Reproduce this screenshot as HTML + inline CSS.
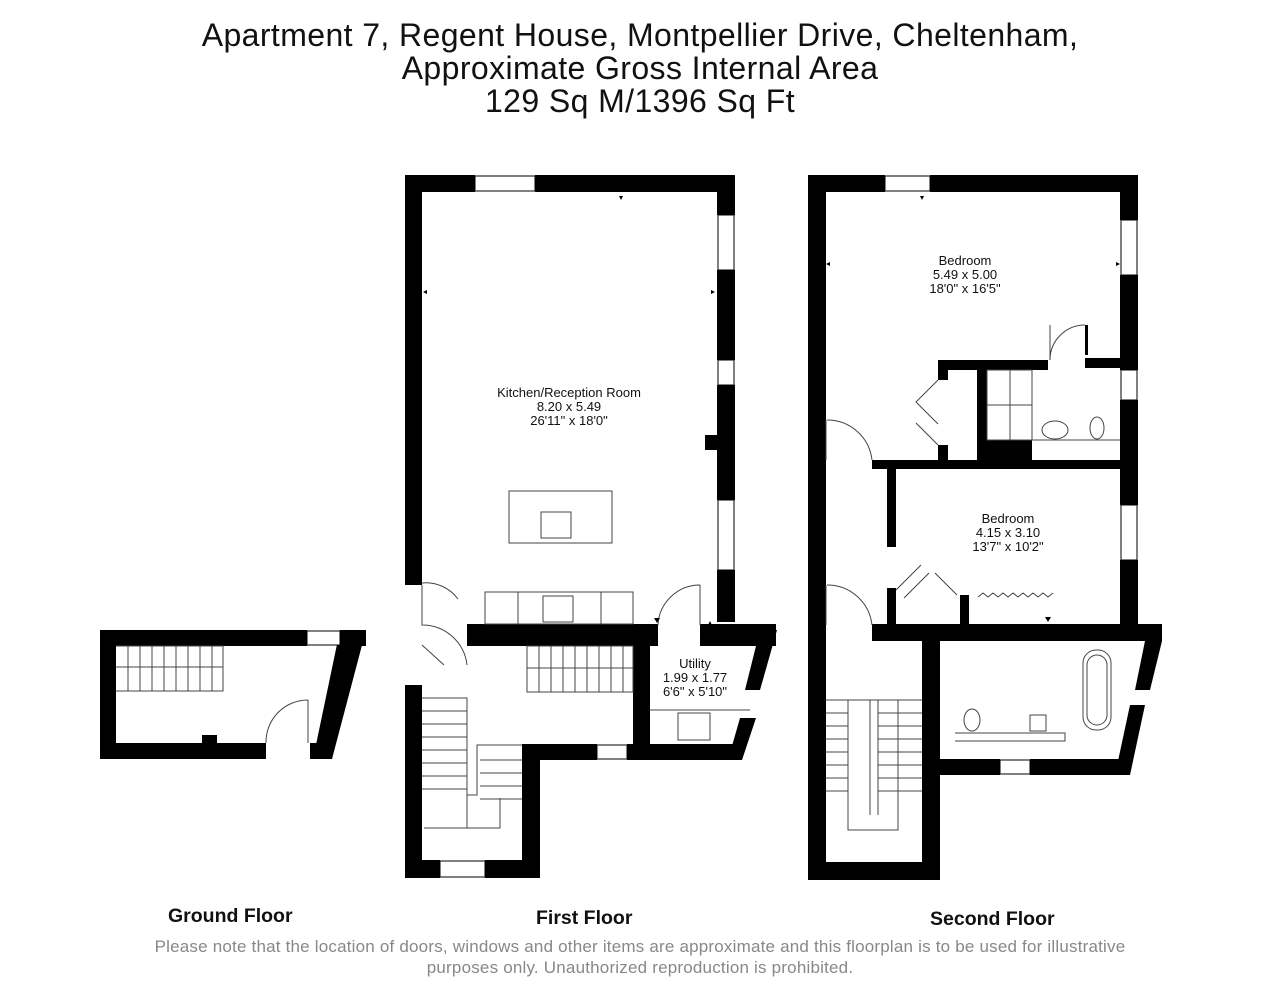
<!DOCTYPE html>
<html><head><meta charset="utf-8"><style>
html,body{margin:0;padding:0;background:#fff;}
body{width:1280px;height:988px;position:relative;overflow:hidden;font-family:"Liberation Sans",sans-serif;}
.t{position:absolute;left:0;width:1280px;text-align:center;color:#111;font-size:32px;letter-spacing:0.4px;line-height:36px;}
.fl{position:absolute;font-weight:bold;font-size:19.5px;color:#111;}
.d{position:absolute;left:0;width:1280px;text-align:center;color:#888;font-size:17px;line-height:21px;letter-spacing:0.2px;}
</style></head><body>
<div class="t" style="top:17px">Apartment 7, Regent House, Montpellier Drive, Cheltenham,</div>
<div class="t" style="top:50px">Approximate Gross Internal Area</div>
<div class="t" style="top:83px">129 Sq M/1396 Sq Ft</div>

<svg width="1280" height="988" style="position:absolute;left:0;top:0" xmlns="http://www.w3.org/2000/svg">
<g fill="#000">
<rect x="100" y="630" width="207" height="16"/>
<rect x="340" y="630" width="26" height="16"/>
<rect x="100" y="630" width="16" height="129"/>
<rect x="100" y="743" width="166" height="16"/>
<rect x="310" y="743" width="22" height="16"/>
<polygon points="340,630 366,630 332,759 313,759"/>
<rect x="202" y="735" width="15" height="8"/>
</g>
<rect x="307" y="631" width="33" height="14" fill="#fff" stroke="#000" stroke-width="1"/>
<g fill="none" stroke="#444" stroke-width="1">
<path d="M116,646 h107 v45 h-107"/>
<path d="M116,667 h107"/>
<path d="M128,646 v45 M140,646 v45 M152,646 v45 M164,646 v45 M176,646 v45 M188,646 v45 M200,646 v45 M212,646 v45"/>
<path d="M308,700 v43 M266,743 a42,42 0 0 1 42,-43"/>
</g>

<g fill="#000">
<rect x="405" y="175" width="70" height="17"/>
<rect x="535" y="175" width="200" height="17"/>
<rect x="405" y="175" width="17" height="410"/>
<rect x="717" y="175" width="18" height="40"/>
<rect x="717" y="270" width="18" height="90"/>
<rect x="717" y="385" width="18" height="115"/>
<rect x="717" y="570" width="18" height="52"/>
<rect x="705" y="435" width="14" height="15"/>
<rect x="467" y="624" width="191" height="22"/>
<rect x="700" y="624" width="76" height="22"/>
<rect x="405" y="685" width="17" height="193"/>
<rect x="405" y="860" width="35" height="18"/>
<rect x="485" y="860" width="55" height="18"/>
<rect x="522" y="744" width="18" height="134"/>
<rect x="522" y="744" width="75" height="16"/>
<rect x="627" y="744" width="115" height="16"/>
<rect x="633" y="646" width="17" height="100"/>
<polygon points="760,630 777,630 760,690 745,690"/>
<polygon points="740,718 756,718 742,760 728,760"/>
</g>
<rect x="475" y="176" width="60" height="15" fill="#fff" stroke="#000"/>
<rect x="718" y="215" width="16" height="55" fill="#fff" stroke="#000"/>
<rect x="718" y="360" width="16" height="25" fill="#fff" stroke="#000"/>
<rect x="718" y="500" width="16" height="70" fill="#fff" stroke="#000"/>
<rect x="440" y="861" width="45" height="16" fill="#fff" stroke="#000"/>
<rect x="597" y="745" width="30" height="14" fill="#fff" stroke="#000"/>
<g fill="none" stroke="#444" stroke-width="1">
<rect x="509" y="491" width="103" height="52"/>
<rect x="541" y="512" width="30" height="26"/>
<rect x="485" y="592" width="148" height="32"/>
<path d="M518,592 v32 M601,592 v32"/>
<rect x="543" y="596" width="30" height="26"/>
<path d="M422,585 v40 a45,45 0 0 1 45,40" />
<path d="M422,645 l22,20 M458,599 a40,40 0 0 0 -36,-16"/>
<path d="M700,585 v40 M658,625 a42,42 0 0 1 42,-40"/>
<path d="M527,646 h106 v46 h-106 z M527,668 h106"/>
<path d="M539,646 v46 M551,646 v46 M563,646 v46 M575,646 v46 M587,646 v46 M599,646 v46 M611,646 v46 M623,646 v46"/>
<path d="M422,698 h45 v130 h-43"/>
<path d="M422,711 h45 M422,724 h45 M422,737 h45 M422,750 h45 M422,763 h45 M422,776 h45 M422,789 h45"/>
<path d="M467,698 v97 h10 v-50 h45"/>
<path d="M480,760 h42 M480,773 h42 M480,786 h42 M480,799 h42 M443,828 h57 v-30"/>
<path d="M650,710 h100"/>
<rect x="678" y="713" width="32" height="27"/>
</g>

<g fill="#000">
<rect x="808" y="175" width="77" height="17"/>
<rect x="930" y="175" width="208" height="17"/>
<rect x="808" y="175" width="18" height="705"/>
<rect x="1120" y="175" width="18" height="45"/>
<rect x="1120" y="275" width="18" height="95"/>
<rect x="1120" y="400" width="18" height="105"/>
<rect x="1120" y="560" width="18" height="70"/>
<rect x="872" y="460" width="248" height="9"/>
<rect x="938" y="360" width="110" height="10"/>
<rect x="938" y="360" width="10" height="20"/>
<rect x="938" y="445" width="10" height="17"/>
<rect x="977" y="360" width="10" height="100"/>
<rect x="987" y="440" width="45" height="22"/>
<rect x="1085" y="325" width="3" height="30"/>
<rect x="1085" y="358" width="35" height="10"/>
<rect x="887" y="469" width="9" height="78"/>
<rect x="887" y="588" width="9" height="40"/>
<rect x="960" y="595" width="9" height="33"/>
<rect x="872" y="624" width="290" height="17"/>
<polygon points="1145,641 1162,641 1150,690 1135,690"/>
<polygon points="1130,705 1145,705 1130,775 1115,775"/>
<rect x="940" y="759" width="60" height="16"/>
<rect x="1030" y="759" width="100" height="16"/>
<rect x="922" y="641" width="18" height="239"/>
<rect x="808" y="862" width="132" height="18"/>
</g>
<rect x="885" y="176" width="45" height="15" fill="#fff" stroke="#000"/>
<rect x="1121" y="220" width="16" height="55" fill="#fff" stroke="#000"/>
<rect x="1121" y="370" width="16" height="30" fill="#fff" stroke="#000"/>
<rect x="1121" y="505" width="16" height="55" fill="#fff" stroke="#000"/>
<rect x="1000" y="760" width="30" height="14" fill="#fff" stroke="#000"/>
<g fill="none" stroke="#444" stroke-width="1">
<path d="M826,420 v40 M872,460 a45,45 0 0 0 -45,-40"/>
<path d="M826,585 v40 M872,625 a45,45 0 0 0 -45,-40"/>
<path d="M1050,325 v35 a35,35 0 0 1 35,-35"/>
<path d="M938,380 l-22,22 l22,22 M938,445 l-22,-22"/>
<rect x="987" y="370" width="45" height="70"/>
<path d="M1010,370 v70 M987,405 h45"/>
<path d="M1032,440 h88"/>
<ellipse cx="1055" cy="430" rx="13" ry="9"/>
<ellipse cx="1097" cy="428" rx="7" ry="11"/>
<path d="M896,590 l25,-25 M904,598 l25,-25 M935,573 l22,22"/>
<path d="M978,597 l5,-4 l5,4 l5,-4 l5,4 l5,-4 l5,4 l5,-4 l5,4 l5,-4 l5,4 l5,-4 l5,4 l5,-4 l5,4 l5,-4"/>
<rect x="1083" y="650" width="28" height="80" rx="13"/>
<rect x="1087" y="655" width="20" height="70" rx="10"/>
<path d="M955,733 h110 v8 h-110"/>
<ellipse cx="972" cy="720" rx="8" ry="11"/>
<rect x="1030" y="715" width="16" height="16"/>
<path d="M826,700 h96 M848,700 v130 h50 v-130 M870,700 v115 M878,700 v115"/>
<path d="M826,713 h22 M826,726 h22 M826,739 h22 M826,752 h22 M826,765 h22 M826,778 h22 M826,791 h22"/>
<path d="M878,713 h44 M878,726 h44 M878,739 h44 M878,752 h44 M878,765 h44 M878,778 h44 M878,791 h44"/>
</g>
<g fill="#000">
<polygon points="619,196 623,196 621,200"/><polygon points="427,290 427,294 423,292"/>
<polygon points="711,290 711,294 715,292"/><polygon points="654,618 660,618 657,623"/>
<polygon points="708,625 712,625 710,621"/><polygon points="920,196 924,196 922,200"/>
<polygon points="830,262 830,266 826,264"/><polygon points="1116,262 1116,266 1120,264"/>
<polygon points="1045,617 1051,617 1048,622"/>
</g>
<g font-family="Liberation Sans,sans-serif" font-size="13" fill="#111" text-anchor="middle">
<text x="569" y="397">Kitchen/Reception Room</text><text x="569" y="411">8.20 x 5.49</text><text x="569" y="425">26'11" x 18'0"</text>
<text x="695" y="668">Utility</text><text x="695" y="682">1.99 x 1.77</text><text x="695" y="696">6'6" x 5'10"</text>
<text x="965" y="265">Bedroom</text><text x="965" y="279">5.49 x 5.00</text><text x="965" y="293">18'0" x 16'5"</text>
<text x="1008" y="523">Bedroom</text><text x="1008" y="537">4.15 x 3.10</text><text x="1008" y="551">13'7" x 10'2"</text>
</g>
</svg>

<div class="fl" style="left:168px;top:905px">Ground Floor</div>
<div class="fl" style="left:536px;top:907px">First Floor</div>
<div class="fl" style="left:930px;top:908px">Second Floor</div>
<div class="d" style="top:936px">Please note that the location of doors, windows and other items are approximate and this floorplan is to be used for illustrative<br>purposes only. Unauthorized reproduction is prohibited.</div>
</body></html>
